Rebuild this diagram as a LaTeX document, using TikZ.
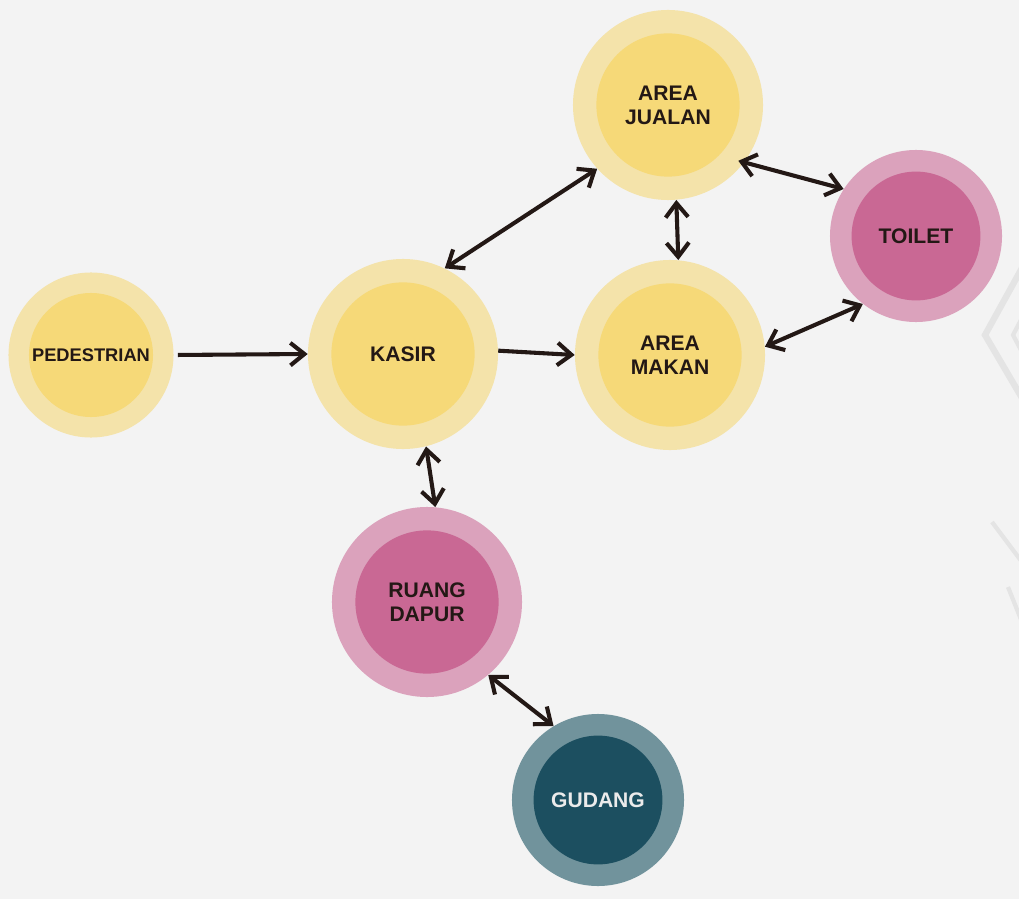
\documentclass[tikz,border=0pt]{standalone}
\usepackage{fontspec}
\setmainfont{Liberation Sans}
\usetikzlibrary{arrows.meta}

\definecolor{bg}{HTML}{F3F3F3}
\definecolor{ylwout}{HTML}{F4E3AA}
\definecolor{ylwin}{HTML}{F6D978}
\definecolor{pnkout}{HTML}{DBA2BC}
\definecolor{pnkin}{HTML}{C96894}
\definecolor{tealout}{HTML}{71939C}
\definecolor{tealin}{HTML}{1C4F60}
\definecolor{ink}{HTML}{231815}
\definecolor{wmgray}{HTML}{E4E4E4}

\tikzset{
	ring/.style n args={4}{circle, inner sep=0pt, fill=#1, minimum size=#3,
		path picture={\fill[#2] (path picture bounding box.center) circle (#4);}},
	room/.style={align=center, text=ink, font=\bfseries\fontsize{15}{17}\selectfont},
	link/.style={draw=ink, line width=2.9pt, -{Straight Barb[length=10pt,width=16pt]}},
	link2/.style={link, {Straight Barb[length=10pt,width=16pt]}-{Straight Barb[length=10pt,width=16pt]}},
}

\begin{document}
\begin{tikzpicture}[x=0.025cm, y=-0.025cm]
	\clip (0,0) rectangle (1019,899);
	\fill[bg] (0,0) rectangle (1019,899);
	% faint marks at the right edge
	\draw[wmgray, line width=4.5pt] (1022,268) -- (985,335) -- (1022,398);
	\draw[wmgray, line width=3pt] (1022,318) -- (1013,335) -- (1022,352);
	\draw[wmgray, line width=3pt] (992,522) -- (1022,562);
	\draw[wmgray, line width=3pt] (1008,587) -- (1022,622);

	\node[ring={ylwout}{ylwin}{4.125cm}{1.55cm}, room, font=\bfseries\fontsize{13}{15}\selectfont] (pedestrian) at (91,355) {PEDESTRIAN};
	\node[ring={ylwout}{ylwin}{4.75cm}{1.79cm}, room] (kasir) at (403,354) {KASIR};
	\node[ring={ylwout}{ylwin}{4.75cm}{1.79cm}, room] (jualan) at (668,105) {AREA\\JUALAN};
	\node[ring={ylwout}{ylwin}{4.75cm}{1.79cm}, room] (makan) at (670,355) {AREA\\MAKAN};
	\node[ring={pnkout}{pnkin}{4.3cm}{1.61cm}, room] (toilet) at (916,236) {TOILET};
	\node[ring={pnkout}{pnkin}{4.75cm}{1.79cm}, room] (dapur) at (427,602) {RUANG\\DAPUR};
	\node[ring={tealout}{tealin}{4.3cm}{1.61cm}, room, text=white!92!black] (gudang) at (598,800) {GUDANG};

	\draw[link, shorten <=1mm] (pedestrian.east) -- (kasir.west);
	\draw[link] (kasir.2) -- (makan.180);
	\draw[link2] (kasir.64) -- (jualan.222);
	\draw[link2] (jualan.275) -- (makan.85);
	\draw[link2, shorten <=-1.5mm] (jualan.-37) -- (toilet.147);
	\draw[link2] (makan.5) -- (toilet.232);
	\draw[link2] (kasir.284) -- (dapur.85);
	\draw[link2] (dapur.310) -- (gudang.121);
\end{tikzpicture}
\end{document}
